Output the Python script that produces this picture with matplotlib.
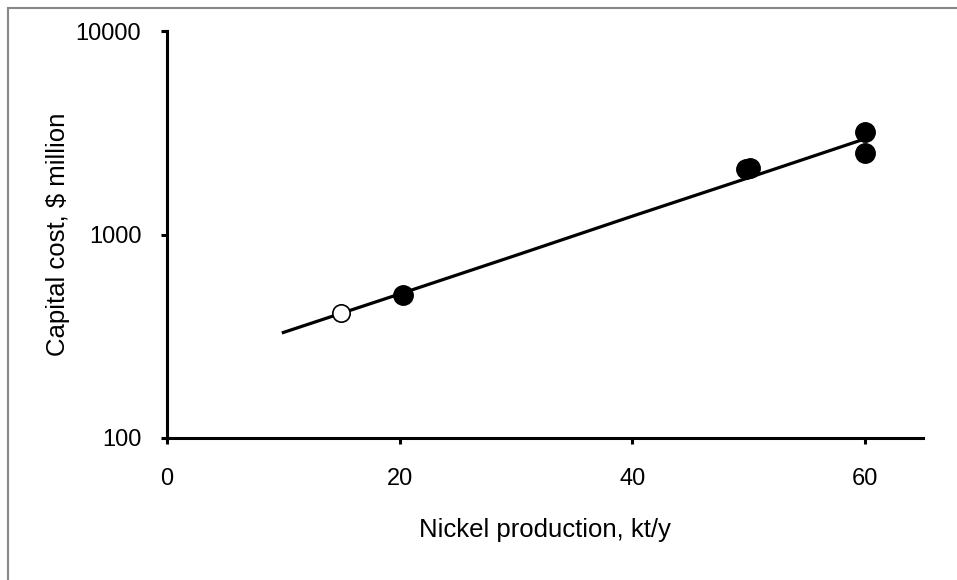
import matplotlib
matplotlib.use("Agg")
import matplotlib.pyplot as plt
from matplotlib.patches import Rectangle
from matplotlib.ticker import FixedLocator, NullLocator, FixedFormatter

plt.rcParams['font.family'] = ['Liberation Sans', 'DejaVu Sans']

# fitted trend line
fit_x = [10, 20, 30, 40, 50, 60]
fit_y = [330, 510, 790, 1230, 1900, 2950]

# projects (filled) and the open one
proj_x = [20.3, 49.8, 50.1, 60, 60]
proj_y = [504, 2110, 2130, 3200, 2520]
open_x = [15]
open_y = [410]

xticks = [0, 20, 40, 60]
yticks = [100, 1000, 10000]
ytick_labels = ['100', '1000', '10000']

fig = plt.figure(figsize=(9.57, 5.8), dpi=100)
# grey frame like the original chart area border
fig.patches.append(Rectangle((8 / 957, -0.1), 1.2, 1 - 8 / 580 + 0.1,
                             transform=fig.transFigure, fill=False,
                             edgecolor='#888888', linewidth=1.5))

ax = fig.add_axes([167 / 957, 142 / 580, (923 - 167) / 957, (438 - 31) / 580])

ax.plot(fit_x, fit_y, color='black', linewidth=2.3, zorder=2)
ax.plot(proj_x, proj_y, 'o', color='black', markersize=14, zorder=3)
ax.plot(open_x, open_y, 'o', markerfacecolor='white', markeredgecolor='black',
        markersize=12.5, markeredgewidth=1.2, zorder=3)

ax.set_yscale('log')
ax.set_xlim(0, 65)
ax.set_ylim(100, 10000)
ax.xaxis.set_major_locator(FixedLocator(xticks))
ax.yaxis.set_major_locator(FixedLocator(yticks))
ax.yaxis.set_major_formatter(FixedFormatter(ytick_labels))
ax.yaxis.set_minor_locator(NullLocator())

for s in ['top', 'right']:
    ax.spines[s].set_visible(False)
for s in ['left', 'bottom']:
    ax.spines[s].set_linewidth(2.2)

ax.tick_params(axis='both', direction='out', length=4.5, width=2.2, labelsize=17)
ax.tick_params(axis='x', pad=17)
ax.tick_params(axis='y', pad=14)

ax.set_xlabel('Nickel production, kt/y', fontsize=18.5, labelpad=20)
ax.set_ylabel('Capital cost, $ million', fontsize=18.5, labelpad=4)

fig.savefig('out.png', dpi=100)
